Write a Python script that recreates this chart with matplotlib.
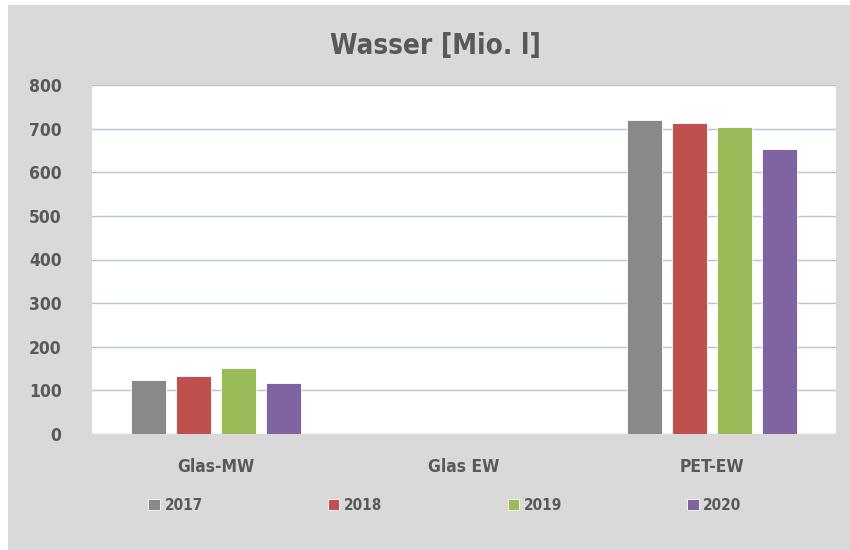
import matplotlib.pyplot as plt
import numpy as np
from matplotlib.patches import Rectangle

# data
categories = ["Glas-MW", "Glas EW", "PET-EW"]
years = ["2017", "2018", "2019", "2020"]
values_2017 = [124, 0, 720]
values_2018 = [133, 0, 712]
values_2019 = [151, 0, 704]
values_2020 = [117, 0, 653]
series = [values_2017, values_2018, values_2019, values_2020]
colors = ["#898989", "#c0504d", "#9bbb59", "#8064a2"]

plt.rcParams["font.family"] = ["DejaVu Sans"]
plt.rcParams["font.stretch"] = "condensed"
text_color = "#595959"

fig = plt.figure(figsize=(8.5, 5.5), dpi=100, facecolor="white")

# grey chart background
fig.patches.append(Rectangle((8 / 850, 0), 1, 1 - 5 / 550,
                             transform=fig.transFigure, facecolor="#d9d9d9",
                             edgecolor="none", zorder=-10))

ax = fig.add_axes([92 / 850, 1 - 434 / 550, 744 / 850, 349 / 550])
ax.set_facecolor("white")

x = np.arange(len(categories))
step = 0.181
width = 0.141
for i, (vals, col, yr) in enumerate(zip(series, colors, years)):
    ax.bar(x + (i - 1.5) * step, vals, width, color=col, label=yr,
           edgecolor="white", linewidth=0.6, zorder=3)

ax.set_xlim(-0.5, 2.5)
ax.set_ylim(0, 800)
ax.set_yticks(range(0, 801, 100))
ax.grid(axis="y", color="#b4c3d6", linewidth=1.0, zorder=1)
ax.set_xticks(x)
ax.set_xticklabels(categories)
ax.tick_params(axis="both", length=0, colors=text_color, labelsize=12.5)
ax.tick_params(axis="x", pad=17)
ax.tick_params(axis="y", pad=22)
for lbl in ax.get_xticklabels() + ax.get_yticklabels():
    lbl.set_fontweight("bold")
for s in ax.spines.values():
    s.set_visible(False)

fig.text(435 / 850, 1 - 46 / 550, "Wasser [Mio. l]", ha="center", va="center",
         fontsize=20, fontweight="bold", color=text_color)

leg = fig.legend(loc="center", bbox_to_anchor=(445 / 850, 1 - 505 / 550),
                 ncol=4, frameon=False, columnspacing=8.2, handlelength=0.75,
                 handleheight=0.75, handletextpad=0.3,
                 prop={"size": 11, "weight": "bold"})
for t in leg.get_texts():
    t.set_color(text_color)

fig.savefig("out.png", dpi=100, facecolor=fig.get_facecolor())
